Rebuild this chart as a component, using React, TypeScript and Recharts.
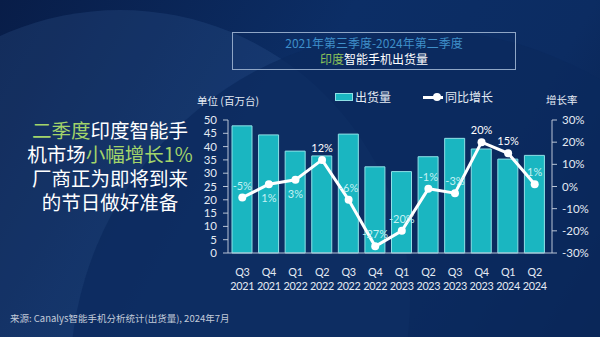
import React from 'react';
import { ComposedChart, Bar, Line, XAxis, YAxis, LabelList } from 'recharts';

const quarters = ['Q3', 'Q4', 'Q1', 'Q2', 'Q3', 'Q4', 'Q1', 'Q2', 'Q3', 'Q4', 'Q1', 'Q2'];
const years = ['2021', '2021', '2022', '2022', '2022', '2022', '2023', '2023', '2023', '2023', '2024', '2024'];
// shipments, millions of units
const shipments = [47.8, 44.4, 38.3, 36.5, 44.7, 32.4, 30.6, 36.2, 43.1, 39.1, 35.3, 36.7];
// year-on-year growth, %
const growth = [-5, 1, 3, 12, -6, -27, -20, -1, -3, 20, 15, 1];
const growthLabels = ['-5%', '1%', '3%', '12%', '-6%', '-27%', '-20%', '-1%', '-3%', '20%', '15%', '1%'];
const leftTicks = [0, 5, 10, 15, 20, 25, 30, 35, 40, 45, 50];
const rightTicks = [-30, -20, -10, 0, 10, 20, 30];

// labels drawn under the point / in white
const labelBelow = [1, 2];
const labelWhite = [3, 9, 10];

const data = quarters.map((q, i) => ({ name: q + ' ' + years[i], shipments: shipments[i], growth: growth[i] }));

const FONT = "Lato, 'Noto Sans CJK SC', sans-serif";
const CJK = "'Noto Sans CJK SC', sans-serif";
const AXIS = '#b9c4d6';
const TXT = '#e4eaf3';
const GREEN = '#a3d46a';

const XTick = (props: any) => {
  const { x, y, index } = props;
  return (
    <text x={x} y={y} textAnchor="middle" fill={TXT} fontSize={10.8} fontFamily={FONT} letterSpacing={-0.3}>
      <tspan x={x} dy={21}>{quarters[index]}</tspan>
      <tspan x={x} dy={13.5}>{years[index]}</tspan>
    </text>
  );
};

const GrowthLabel = (props: any) => {
  const { x, y, index } = props;
  const below = labelBelow.includes(index);
  return (
    <text
      x={x}
      y={y + (below ? 18 : -8)}
      textAnchor="middle"
      fontSize={11}
      fontFamily={FONT}
      fill={labelWhite.includes(index) ? '#ffffff' : '#c4f1f4'}
    >
      {growthLabels[index]}
    </text>
  );
};

const headLine: React.CSSProperties = { height: 24, lineHeight: '24px', whiteSpace: 'nowrap' };

export default function App() {
  return (
    <div
      style={{
        position: 'absolute',
        left: 0,
        top: 0,
        width: 600,
        height: 337,
        overflow: 'hidden',
        background: 'linear-gradient(120deg, #081d48 0%, #0c2e66 45%, #0c2c62 75%, #08204c 100%)',
      }}
    >
      {/* background arcs */}
      <div style={{ position: 'absolute', left: -170, top: 10, width: 580, height: 580, borderRadius: '50%', background: 'rgba(60,100,160,0.22)' }} />
      <div style={{ position: 'absolute', left: 70, top: 30, width: 700, height: 700, borderRadius: '50%', background: 'rgba(11,42,94,0.75)' }} />

      {/* title box */}
      <div
        style={{
          position: 'absolute',
          left: 232,
          top: 32,
          width: 284,
          height: 38,
          border: '1px solid #8fa6c6',
          boxSizing: 'border-box',
          textAlign: 'center',
          fontFamily: CJK,
          fontSize: 12,
          lineHeight: '16px',
          paddingTop: 2,
        }}
      >
        <div style={{ color: '#3f8fc9' }}>2021年第三季度-2024年第二季度</div>
        <div style={{ color: '#ffffff' }}>
          <span style={{ color: '#8cc25a' }}>印度</span>智能手机出货量
        </div>
      </div>

      {/* left headline */}
      <div
        style={{
          position: 'absolute',
          left: 20,
          top: 118,
          width: 180,
          textAlign: 'center',
          fontFamily: CJK,
          fontSize: 19.5,
          color: '#ffffff',
        }}
      >
        <div style={headLine}><span style={{ color: GREEN }}>二季度</span>印度智能手</div>
        <div style={headLine}>机市场<span style={{ color: GREEN }}>小幅增长1%</span></div>
        <div style={headLine}>厂商正为即将到来</div>
        <div style={headLine}>的节日做好准备</div>
      </div>

      {/* axis titles */}
      <div style={{ position: 'absolute', left: 197, top: 93, fontFamily: CJK, fontSize: 10.5, color: TXT }}>单位 (百万台)</div>
      <div style={{ position: 'absolute', left: 546, top: 92, fontFamily: CJK, fontSize: 10.5, color: TXT }}>增长率</div>

      {/* legend */}
      <div style={{ position: 'absolute', left: 335, top: 88, fontFamily: CJK, fontSize: 12, color: TXT, display: 'flex', alignItems: 'center' }}>
        <span style={{ display: 'inline-block', width: 16, height: 6, background: '#1ab6c1', border: '1px solid #8fe0e6', marginRight: 2 }} />
        <span>出货量</span>
        <span style={{ display: 'inline-block', position: 'relative', width: 20, height: 10, marginLeft: 32, marginRight: 2 }}>
          <span style={{ position: 'absolute', left: 0, top: 4, width: 20, height: 3, background: '#fff' }} />
          <span style={{ position: 'absolute', left: 10, top: 1, width: 8, height: 8, borderRadius: '50%', background: '#fff' }} />
        </span>
        <span>同比增长</span>
      </div>

      {/* source */}
      <div style={{ position: 'absolute', left: 10, top: 311, fontFamily: CJK, fontSize: 9.5, color: '#c3cbd9' }}>
        来源: Canalys智能手机分析统计(出货量), 2024年7月
      </div>

      <div style={{ position: 'absolute', left: 0, top: 0 }}>
        <ComposedChart width={600} height={337} data={data} margin={{ top: 120, right: 0, bottom: 44, left: 0 }} barCategoryGap={3}>
          <XAxis
            dataKey="name"
            height={40}
            interval={0}
            tick={<XTick />}
            tickLine={false}
            tickSize={0}
            axisLine={{ stroke: AXIS }}
            padding={{ left: 1, right: 4 }}
          />
          <YAxis
            yAxisId="left"
            width={228}
            domain={[0, 50]}
            ticks={leftTicks}
            interval={0}
            tickSize={5}
            tickMargin={6}
            axisLine={{ stroke: AXIS }}
            tickLine={{ stroke: AXIS }}
            tick={{ fill: TXT, fontSize: 11.5, fontFamily: FONT }}
          />
          <YAxis
            yAxisId="right"
            orientation="right"
            width={48}
            domain={[-30, 30]}
            ticks={rightTicks}
            interval={0}
            tickSize={5}
            tickMargin={5}
            tickFormatter={(v: number) => v + '%'}
            axisLine={{ stroke: AXIS }}
            tickLine={{ stroke: AXIS }}
            tick={{ fill: TXT, fontSize: 11.5, fontFamily: FONT }}
          />
          <Bar yAxisId="left" dataKey="shipments" fill="#1ab6c1" stroke="#8fe0e6" strokeWidth={1} barSize={20} isAnimationActive={false} />
          <Line
            yAxisId="right"
            dataKey="growth"
            type="linear"
            stroke="#ffffff"
            strokeWidth={3}
            dot={{ r: 4, fill: '#ffffff', stroke: 'none' }}
            isAnimationActive={false}
          >
            <LabelList dataKey="growth" content={<GrowthLabel />} />
          </Line>
        </ComposedChart>
      </div>
    </div>
  );
}
